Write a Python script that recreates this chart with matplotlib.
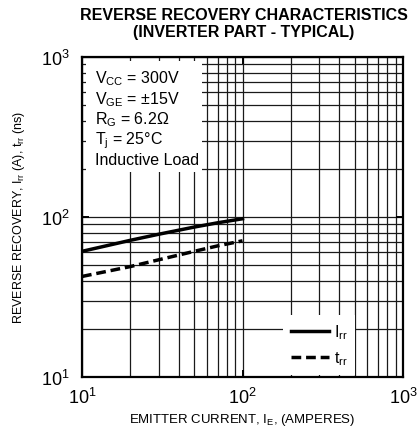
import matplotlib
matplotlib.use("Agg")
import matplotlib.pyplot as plt
from matplotlib.patches import Rectangle

plt.rcParams['font.family'] = ['Liberation Sans', 'DejaVu Sans']
plt.rcParams['mathtext.fontset'] = 'custom'
plt.rcParams['mathtext.rm'] = 'Liberation Sans'
plt.rcParams['mathtext.it'] = 'Liberation Sans'

# data
ie_amps = [10, 20, 30, 50, 70, 100]
irr_amps = [61, 71.5, 78, 86.5, 92, 97.5]
trr_ns = [42.5, 49, 54, 61, 66, 71]

conditions = ["$V_{CC}$ = 300V", "$V_{GE}$ = \u00b115V", "$R_G$ = 6.2\u03a9",
              "$T_j$ = 25\u00b0C", "Inductive Load"]

fig = plt.figure(figsize=(4.19, 4.31), dpi=100)
ax = fig.add_axes([82 / 419, 53 / 431, 321 / 419, 320 / 431])

ax.set_xscale('log')
ax.set_yscale('log')
ax.set_xlim(10, 1000)
ax.set_ylim(10, 1000)
ax.set_axisbelow(True)
ax.grid(True, which='both', color='#1a1a1a', linewidth=0.9)

ax.plot(ie_amps, irr_amps, color='black', linewidth=2.5, zorder=3, label='$I_{rr}$')
ax.plot(ie_amps, trr_ns, color='black', linewidth=2.5, dashes=(2.8, 1.4), zorder=3,
        label='$t_{rr}$')

# white box behind the test conditions
ax.add_patch(Rectangle((0.013, 0.64), 0.36, 0.348, transform=ax.transAxes,
                       facecolor='white', edgecolor='none', zorder=1.5))
for i, txt in enumerate(conditions):
    ax.text(0.04, 0.935 - i * 0.064, txt, transform=ax.transAxes, fontsize=11.5,
            va='center', ha='left', zorder=2)

leg = ax.legend(loc='lower left', bbox_to_anchor=(0.625, 0.006), fontsize=11.5,
                frameon=True, fancybox=False, framealpha=1, edgecolor='none',
                handlelength=2.4, handletextpad=0.3, borderpad=0.5, labelspacing=0.5,
                borderaxespad=0)
leg.get_frame().set_facecolor('white')

for s in ax.spines.values():
    s.set_linewidth(1.6)
ax.tick_params(which='major', direction='in', length=5, width=1.4, labelsize=13)
ax.tick_params(which='minor', length=0)
ax.tick_params(axis='y', pad=9)
ax.tick_params(axis='x', pad=7)
ax.tick_params(top=True, right=True)

ax.set_xlabel("EMITTER CURRENT, $I_E$, (AMPERES)", fontsize=9.5, labelpad=3)
ax.set_ylabel("REVERSE RECOVERY, $I_{rr}$ (A), $t_{rr}$ (ns)", fontsize=9, labelpad=10)

fig.text(244 / 419, 1 - 15 / 431, "REVERSE RECOVERY CHARACTERISTICS",
         ha='center', va='center', fontsize=11.5, fontweight='bold')
fig.text(244 / 419, 1 - 33 / 431, "(INVERTER PART - TYPICAL)",
         ha='center', va='center', fontsize=11.5, fontweight='bold')

fig.savefig("out.png", dpi=100)
